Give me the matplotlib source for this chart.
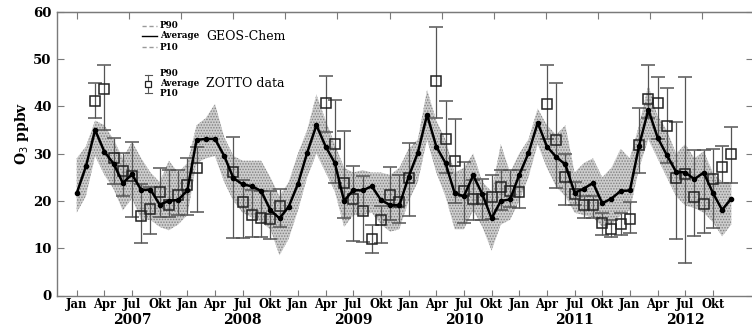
import numpy as np
import matplotlib
matplotlib.use("Agg")
import matplotlib.pyplot as plt

# ---------------- data ----------------
# month index: 0 = Jan 2007
geos_month = list(range(72))
geos_avg = [21.6, 27.3, 35.0, 30.4, 27.9, 23.8, 25.6, 22.3, 22.4, 19.2, 20.0, 20.2,
            22.2, 32.9, 33.1, 33.1, 29.5, 24.8, 23.5, 23.1, 22.1, 18.1, 16.3, 18.8,
            23.6, 30.2, 36.0, 31.5, 28.0, 20.0, 22.3, 22.2, 23.1, 20.2, 19.1, 19.1,
            25.1, 30.2, 38.2, 31.5, 28.0, 21.6, 21.0, 25.4, 21.4, 16.3, 20.0, 20.3,
            25.5, 30.1, 36.5, 31.5, 29.3, 27.7, 21.7, 22.6, 23.8, 19.5, 20.5, 22.1,
            22.2, 31.7, 39.3, 33.4, 29.7, 26.2, 26.0, 24.6, 26.0, 21.7, 18.1, 20.5]
geos_p90 = [29.0, 31.5, 37.0, 36.0, 33.0, 29.0, 32.5, 29.0, 26.0, 24.0, 28.5, 26.0,
            28.0, 36.0, 37.5, 40.5, 33.5, 29.5, 28.5, 28.5, 28.5, 25.0, 21.0, 24.0,
            30.0, 35.0, 42.5, 37.0, 32.0, 27.0, 26.0, 26.5, 26.0, 26.0, 25.5, 27.0,
            31.0, 33.0, 43.5, 37.0, 33.0, 26.0, 27.0, 30.0, 24.0, 22.0, 32.0, 26.0,
            30.0, 33.0, 39.5, 36.0, 34.0, 36.0, 26.0, 28.0, 29.0, 25.0, 27.0, 31.0,
            29.0, 36.0, 44.5, 38.0, 35.0, 30.0, 32.0, 29.0, 30.5, 26.0, 24.0, 24.0]
geos_p10 = [17.5, 21.0, 29.5, 25.5, 22.5, 18.0, 20.5, 16.0, 16.0, 14.5, 13.8, 15.0,
            17.0, 28.0, 29.0, 29.5, 24.0, 20.0, 17.5, 16.5, 15.5, 14.0, 8.5, 12.0,
            18.0, 25.0, 30.0, 26.0, 22.0, 14.5, 17.0, 17.0, 17.5, 15.0, 13.5, 14.0,
            20.0, 24.0, 33.0, 26.0, 21.0, 14.0, 14.0, 18.0, 14.5, 9.5, 15.0, 16.0,
            20.0, 25.0, 32.0, 27.0, 23.0, 21.0, 17.5, 17.0, 16.5, 14.5, 15.0, 17.0,
            18.0, 27.0, 33.0, 29.0, 25.0, 21.0, 19.0, 18.5, 17.5, 15.5, 12.5, 15.0]

zotto_month = [2, 3, 4, 5, 6, 7, 8, 9, 10, 11, 12, 13,
               17, 18, 19, 20, 21, 22,
               27, 28, 29, 30, 31, 32, 33, 34, 35, 36,
               39, 40, 41, 42, 43, 44, 45, 46, 47, 48,
               51, 52, 53, 54, 55, 56, 57, 58, 59, 60,
               61, 62, 63, 64, 65, 66, 67, 68, 69, 70, 71]
zotto_avg = [41.1, 43.6, 29.1, 26.4, 25.3, 16.9, 18.2, 21.8, 19.2, 21.2, 23.3, 27.0,
             26.1, 19.7, 17.1, 16.3, 16.1, 18.9,
             40.6, 32.0, 23.7, 20.3, 17.9, 11.9, 16.0, 21.2, 19.8, 24.8,
             45.4, 33.1, 28.4, 22.0, 20.5, 20.3, 20.9, 23.0, 22.0, 21.9,
             40.5, 32.8, 25.0, 21.5, 19.1, 19.2, 15.3, 14.0, 15.1, 16.1,
             31.8, 41.5, 40.6, 35.9, 24.8, 25.7, 20.9, 19.3, 24.6, 27.2, 29.9]
zotto_p90 = [44.9, 48.7, 33.4, 30.1, 32.5, 23.6, 23.0, 27.0, 26.5, 26.5, 29.0, 31.5,
             33.6, 24.5, 22.3, 22.0, 22.0, 22.5,
             46.4, 41.3, 34.8, 27.4, 25.3, 14.8, 19.0, 27.2, 25.5, 32.2,
             56.7, 41.2, 37.4, 28.2, 24.5, 24.6, 25.5, 26.5, 26.5, 26.5,
             48.7, 45.0, 30.0, 24.0, 21.0, 21.0, 17.4, 16.0, 17.4, 19.8,
             39.6, 48.7, 46.1, 43.8, 36.6, 46.1, 30.8, 30.8, 31.0, 31.7, 35.6]
zotto_p10 = [37.5, 35.0, 23.5, 21.0, 16.7, 11.0, 13.0, 16.5, 16.5, 17.0, 17.0, 17.7,
             12.1, 12.2, 12.4, 12.3, 12.0, 14.5,
             34.6, 23.7, 16.3, 11.6, 11.4, 9.0, 11.0, 16.0, 15.3, 16.8,
             37.5, 26.0, 19.5, 15.4, 16.0, 16.0, 16.2, 18.1, 18.8, 18.6,
             33.0, 22.7, 19.1, 19.1, 16.3, 16.3, 12.8, 12.4, 12.8, 13.2,
             25.8, 37.5, 33.0, 28.0, 11.9, 6.8, 12.6, 13.2, 14.2, 23.7, 23.7]

month_labels = ["Jan", "Apr", "Jul", "Okt"]
years = ["2007", "2008", "2009", "2010", "2011", "2012"]
y_ticks = [0, 10, 20, 30, 40, 50, 60]

# ---------------- figure ----------------
plt.rcParams['hatch.linewidth'] = 0.7
W, H = 752, 329
fig = plt.figure(figsize=(W / 100, H / 100), dpi=100)
L, R, B, T = 57, 753, 295.5, 11.7
ax = fig.add_axes([L / W, (H - B) / H, (R - L) / W, (B - T) / H])

SERIF = ["DejaVu Serif"]
gray = "#7a7a7a"

# band
ax.fill_between(geos_month, geos_p10, geos_p90, facecolor="#cdcdcd",
                edgecolor="#808080", hatch="......", linewidth=0, zorder=1)

# ZOTTO error bars
za = np.array(zotto_avg)
ax.errorbar(zotto_month, zotto_avg,
            yerr=[za - np.array(zotto_p10), np.array(zotto_p90) - za],
            fmt="s", mfc="none", mec="#222222", mew=1.1, ms=7.5,
            ecolor="#555555", elinewidth=0.9, capsize=5, capthick=0.9, zorder=3)

# GEOS-Chem average
ax.plot(geos_month, geos_avg, "-o", color="black", lw=1.8, ms=3, zorder=4)

# axes
xmin = -(76.7 - L) / 9.22
xmax = (R - 76.7) / 9.22
ax.set_xlim(xmin, xmax)
ax.set_ylim(0, 60)

qt = np.arange(0, 72, 3)
ax.set_xticks(qt)
ax.set_xticklabels([month_labels[i % 4] for i in range(len(qt))],
                   fontfamily=SERIF, fontweight="bold", fontsize=8.3)
ax.set_yticks(y_ticks)
ax.set_yticklabels([str(v) for v in y_ticks], fontfamily=SERIF,
                   fontweight="bold", fontsize=9.5)
ax.tick_params(axis="x", direction="in", length=4, color=gray, pad=1.5)
ax.tick_params(axis="y", direction="in", length=5, color=gray, pad=4,
               right=True)

# top ticks
ax2 = ax.secondary_xaxis("top")
ax2.set_xticks(np.arange(0, 70, 5.655))
ax2.set_xticklabels([])
ax2.tick_params(direction="in", length=5, color=gray)
ax2.spines["top"].set_color(gray)

for s in ["left", "bottom", "top"]:
    ax.spines[s].set_color(gray)
    ax.spines[s].set_linewidth(1.0)
ax.spines["right"].set_visible(False)

# year labels under July
for i, yr in enumerate(years):
    ax.text(6 + 12 * i, -(320 - B) / (B - T), yr,
            transform=ax.get_xaxis_transform(),
            ha="center", va="center", fontfamily=SERIF, fontweight="bold",
            fontsize=10)

fig.text(22 / W, 1 - 133 / H, "O$_3$ ppbv", rotation=90, ha="center",
         va="center", fontfamily=SERIF, fontweight="bold", fontsize=10)

# legend (manual)
def ax_pt(px, py):
    return ((px - L) / (R - L), (B - py) / (B - T))

tr = ax.transAxes
for py, ls, c in [(26, (0, (3, 2)), "#999999"), (36, "-", "black"), (47, (0, (3, 2)), "#999999")]:
    x0, y0 = ax_pt(142, py)
    x1, _ = ax_pt(157, py)
    ax.plot([x0, x1], [y0, y0], transform=tr, color=c, ls=ls, lw=1.0,
            clip_on=False)
for py, txt in [(26, "P90"), (36, "Average"), (47, "P10")]:
    x0, y0 = ax_pt(160, py)
    ax.text(x0, y0, txt, transform=tr, ha="left", va="center",
            fontfamily=SERIF, fontweight="bold", fontsize=6.3)
x0, y0 = ax_pt(206, 36.7)
ax.text(x0, y0, "GEOS-Chem", transform=tr, ha="left", va="center",
        fontfamily=SERIF, fontsize=9)

# errorbar legend symbol
xs, ytop = ax_pt(148, 75)
_, ybot = ax_pt(148, 93)
_, ymid = ax_pt(148, 83.5)
ax.plot([xs, xs], [ybot, ytop], transform=tr, color="#555555", lw=0.8)
cw = 3.5 / (R - L)
for yy in (ytop, ybot):
    ax.plot([xs - cw, xs + cw], [yy, yy], transform=tr, color="#555555", lw=0.8)
ax.plot([xs], [ymid], transform=tr, marker="s", ms=5, mfc="white",
        mec="#222222", mew=0.9)
for py, txt in [(73, "P90"), (83.5, "Average"), (93, "P10")]:
    x0, y0 = ax_pt(160, py)
    ax.text(x0, y0, txt, transform=tr, ha="left", va="center",
            fontfamily=SERIF, fontweight="bold", fontsize=6.3)
x0, y0 = ax_pt(206, 83.5)
ax.text(x0, y0, "ZOTTO data", transform=tr, ha="left", va="center",
        fontfamily=SERIF, fontsize=9)

fig.savefig("out.png", dpi=100)
